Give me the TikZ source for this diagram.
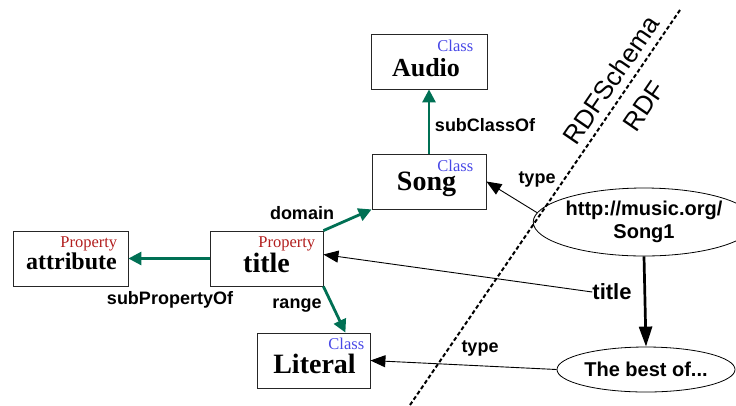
\documentclass[tikz,border=0pt]{standalone}
\usepackage{fontspec}
\setmainfont{Liberation Serif}
\setsansfont{Liberation Sans}
\usetikzlibrary{shapes.geometric,arrows.meta,calc}
\definecolor{clsblue}{RGB}{72,72,230}
\definecolor{propred}{RGB}{178,30,30}
\definecolor{relgreen}{RGB}{0,112,84}
\tikzset{
  box/.style={draw=black!85,line width=0.8bp,minimum height=55bp,inner sep=0pt},
  cls/.style={anchor=base east,inner sep=0pt,text=clsblue,font=\fontsize{16.5bp}{18bp}\selectfont},
  prop/.style={anchor=base east,inner sep=0pt,text=propred,font=\fontsize{16.5bp}{18bp}\selectfont},
  maintxt/.style={anchor=base,inner sep=0pt,font=\bfseries\fontsize{#1}{#1}\selectfont},
  lbl/.style={inner sep=0pt,font=\sffamily\bfseries\fontsize{18bp}{20bp}\selectfont},
  res/.style={draw,ellipse,line width=0.8bp,inner sep=0pt,align=center,font=\sffamily\bfseries\fontsize{20bp}{23bp}\selectfont},
  garrow/.style={relgreen,line width=2.8bp,-{Triangle[length=13bp,width=13bp]}},
  barrow/.style={black,line width=0.9bp,-{Triangle[length=15bp,width=12bp]}},
  bigarrow/.style={black,line width=2.7bp,-{Triangle[length=20bp,width=13bp]}},
  sepline/.style={black,line width=2bp,dash pattern=on 4bp off 2.5bp},
  layer/.style={inner sep=0pt,font=\sffamily\fontsize{26bp}{28bp}\selectfont}
}
\begin{document}
\begin{tikzpicture}[x=1bp,y=-1bp]
\useasboundingbox (0,0) rectangle (736,405);
% boxes
\node[box,minimum width=116bp] (audio) at (429,61.5) {};
\node[box,minimum width=114bp] (song) at (429,181.5) {};
\node[box,minimum width=113bp] (title) at (266.5,258.5) {};
\node[box,minimum width=115bp] (attr) at (70.5,258.5) {};
\node[box,minimum width=113bp] (lit) at (313.5,360.5) {};
% box texts
\node[cls] (audioc) at ($(audio.north east)+(-14,18)$) {Class};
\node[maintxt=26bp] (audiot) at ($(audio.north)+(-3,43)$) {Audio};
\node[cls] (songc) at ($(song.north east)+(-13,18)$) {Class};
\node[maintxt=28bp] (songt) at ($(song.north)+(-2.5,37)$) {Song};
\node[prop] (titlec) at ($(title.north east)+(-8,17)$) {Property};
\node[maintxt=28bp] (titlet) at ($(title.north)+(0,42)$) {title};
\node[prop] (attrc) at ($(attr.north east)+(-11,17)$) {Property};
\node[maintxt=24bp] (attrt) at ($(attr.north)+(1,39)$) {attribute};
\node[cls] (litc) at ($(lit.north east)+(-6,17)$) {Class};
\node[maintxt=28bp] (litt) at ($(lit.north)+(1,41)$) {Literal};
% resources
\node[res,minimum width=186bp,minimum height=68bp] (song1) at (644,222) {http://music.org/\\Song1};
\node[res,minimum width=178bp,minimum height=45bp] (best) at (646,369.5) {The best of...};
% separator
\coordinate (septop) at (680,10);
\coordinate (sepbot) at (410,405);
\draw[sepline] (septop) -- (sepbot);
\node[layer,rotate=55.6] (rdfs) at (611,80) {RDFSchema};
\node[layer,rotate=55.6] (rdf) at (644,106) {RDF};
% green relations
\draw[garrow] (song.north) -- (audio.south);
\draw[garrow] (title.west) -- (attr.east);
\draw[garrow] (title.north east) -- (song.south west);
\draw[garrow] (title.south east) -- ($(lit.north east)+(-25,0)$);
\node[lbl] (lsub) at (485,125) {subClassOf};
\node[lbl] (ldom) at (302,213) {domain};
\node[lbl] (lsubp) at (170,300) {subPropertyOf};
\node[lbl] (lrange) at (297,306) {range};
% black relations
\node[lbl] (ltype1) at (537,179) {type};
\node[lbl] (ltype2) at (480,348) {type};
\node[inner sep=0pt,font=\sffamily\bfseries\fontsize{22bp}{24bp}\selectfont] (ltitle) at (612,292) {title};
\draw[barrow] (song1.175) -- (song.east);
\draw[barrow] (ltitle.west) -- ($(title.east)+(0,-4)$);
\draw[barrow] (best.west) -- (lit.east);
\draw[bigarrow] (song1.south) -- (best.north);
\end{tikzpicture}
\end{document}
